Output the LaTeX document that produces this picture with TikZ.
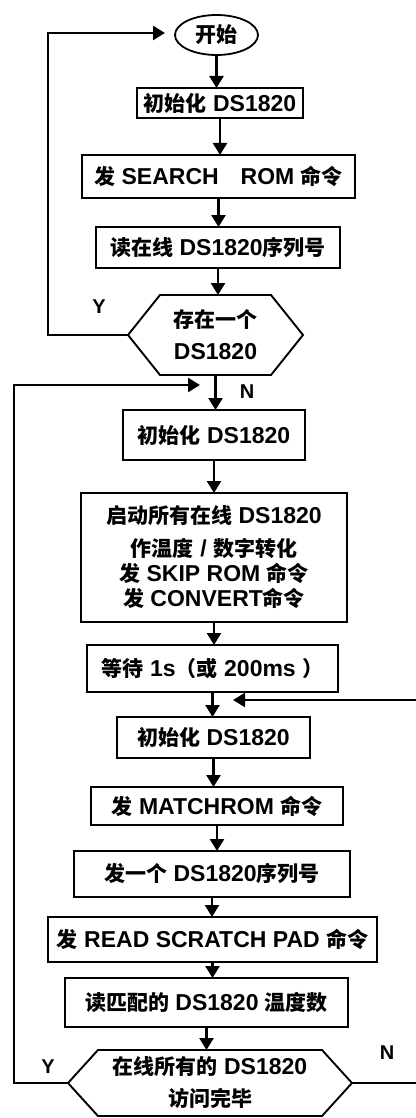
\documentclass[tikz,border=0pt]{standalone}
\usepackage{fontspec}
\setmainfont{Liberation Sans}
\newfontfamily\cjk{Noto Sans CJK SC}
\usetikzlibrary{arrows.meta,shapes.geometric,calc}
\newcommand\zh[1]{{\cjk\bfseries\fontsize{21}{25}\selectfont #1}}
\begin{document}
\begin{tikzpicture}[x=1pt,y=-1pt,
  font=\bfseries\fontsize{23}{25}\selectfont,
  box/.style={draw, line width=1.8pt, inner sep=2pt, outer sep=0pt, align=center},
  hexn/.style={inner sep=2pt, outer sep=0pt, align=center},
  hexline/.style={line width=1.9pt, line join=miter},
  conn/.style={line width=2.5pt},
  arr/.style={conn, -{Triangle[length=12pt,width=14pt]}},
  lbl/.style={font=\bfseries\fontsize{20}{22}\selectfont}]
\fill[white] (0,0) rectangle (415,1118);
\useasboundingbox (0,0) rectangle (415,1118);

% nodes
\node[box, ellipse, minimum width=83pt, minimum height=40pt] (st) at (216.5,35) {\zh{开始}};
\node[box, minimum width=166pt, minimum height=30pt] (b1) at (220,103) {\zh{初始化} DS1820};
\node[box, minimum width=273pt, minimum height=43pt] (b2) at (218.5,176.5) {\zh{发} SEARCH\hspace{22pt}ROM \zh{命令}};
\node[box, minimum width=244pt, minimum height=41pt] (b3) at (218,247.5) {\zh{读在线} DS1820\zh{序列号}};
\node[hexn, minimum width=175pt, minimum height=80pt] (h1) at (215.5,335) {\zh{存在一个}\\[7pt]DS1820};
\draw[hexline] (h1.west) -- ($(h1.north west)+(32,0)$) -- ($(h1.north east)+(-32,0)$) -- (h1.east)
  -- ($(h1.south east)+(-32,0)$) -- ($(h1.south west)+(32,0)$) -- cycle;
\node[box, minimum width=182pt, minimum height=50pt] (b4) at (214,435) {\zh{初始化} DS1820};
\node[box, minimum width=266pt, minimum height=129pt] (b5) at (214,557.5)
  {\zh{启动所有在线} DS1820\\[8pt]\zh{作温度} / \zh{数字转化}\\\zh{发} SKIP ROM \zh{命令}\\\zh{发} CONVERT\zh{命令}};
\node[box, minimum width=251pt, minimum height=47pt] (b6) at (212.5,668.5) {\zh{等待} 1s\zh{（或} 200ms \zh{）}};
\node[box, minimum width=193pt, minimum height=41pt] (b7) at (213.5,737.5) {\zh{初始化} DS1820};
\node[box, minimum width=252pt, minimum height=38pt] (b8) at (217,806) {\zh{发} MATCHROM \zh{命令}};
\node[box, minimum width=276pt, minimum height=46pt] (b9) at (212,874) {\zh{发一个} DS1820\zh{序列号}};
\node[box, minimum width=329pt, minimum height=45pt] (b10) at (212.5,939.5) {\zh{发} READ SCRATCH PAD \zh{命令}};
\node[box, minimum width=283pt, minimum height=49pt] (b11) at (206.5,1002.5) {\zh{读匹配的} DS1820 \zh{温度数}};
\node[hexn, minimum width=284pt, minimum height=66pt] (h2) at (210,1083) {\zh{在线所有的} DS1820\\[7pt]\zh{访问完毕}};
\draw[hexline] (h2.west) -- ($(h2.north west)+(30,0)$) -- ($(h2.north east)+(-30,0)$) -- (h2.east)
  -- ($(h2.south east)+(-30,0)$) -- ($(h2.south west)+(30,0)$) -- cycle;

% labels
\node[lbl] (y1) at (99,307) {Y};
\node[lbl] (n1) at (247,392) {N};
\node[lbl] (y2) at (48,1067) {Y};
\node[lbl] (n2) at (387,1053) {N};

% main flow
\draw[arr] (st.south) -- (st.south |- b1.north);
\draw[arr] (b1.south) -- (b1.south |- b2.north);
\draw[arr] (b2.south) -- (b2.south |- b3.north);
\draw[arr] (b3.south) -- (b3.south |- h1.north);
\draw[arr] (h1.south) -- (h1.south |- b4.north);
\draw[arr] (b4.south) -- (b4.south |- b5.north);
\draw[arr] (b5.south) -- (b5.south |- b6.north);
\draw[arr] (b6.south) -- (b6.south |- b7.north);
\draw[arr] (b7.south) -- (b7.south |- b8.north);
\draw[arr] (b8.south) -- (b8.south |- b9.north);
\draw[arr] (b9.south) -- (b9.south |- b10.north);
\draw[arr] (b10.south) -- (b10.south |- b11.north);
\draw[arr] (b11.south) -- (b11.south |- h2.north);

% loops
\coordinate (L1) at (48,0);
\coordinate (cA) at (165,33);
\draw[arr] (h1.west) -- (h1.west -| L1) |- (cA);
\coordinate (L2) at (14,0);
\coordinate (cB) at (200,385);
\draw[arr] (h2.west) -- (h2.west -| L2) |- (cB);
\coordinate (R) at (418,0);
\coordinate (cC) at (233,700);
\draw[arr] (h2.east) -- (h2.east -| R) |- (cC);
\end{tikzpicture}
\end{document}
